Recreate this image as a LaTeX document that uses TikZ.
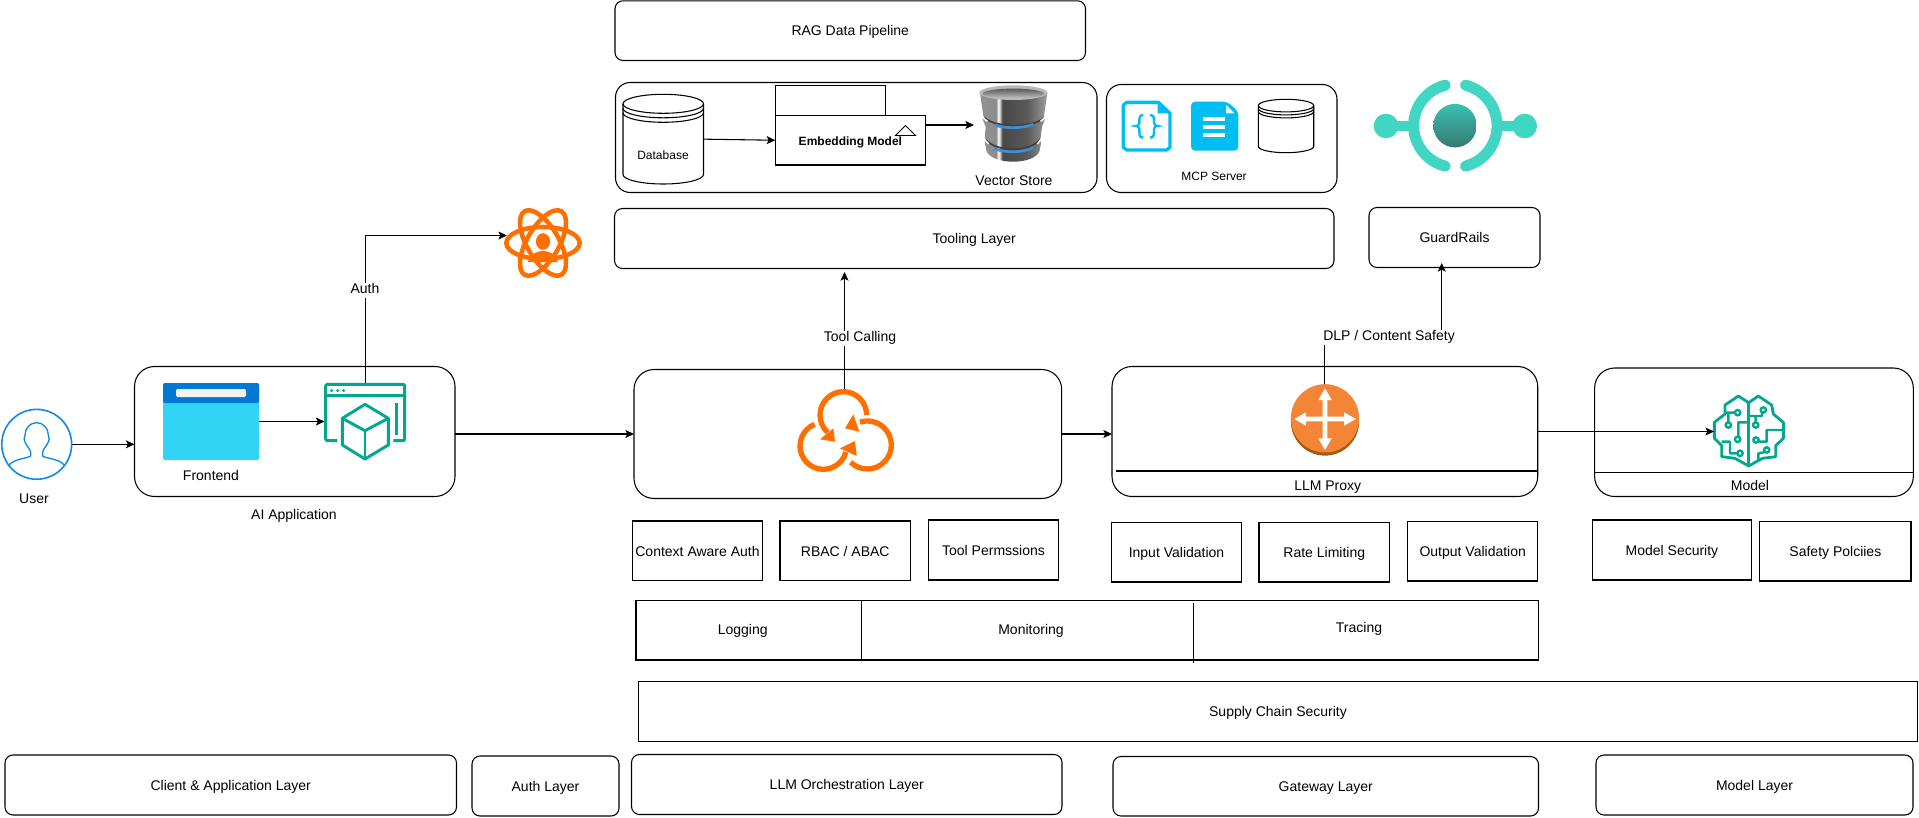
\documentclass[tikz,border=0pt]{standalone}
\usepackage{fontspec}
\setmainfont{Liberation Sans}
\usetikzlibrary{arrows.meta}
\definecolor{tealg}{HTML}{01A88D}
\definecolor{orng}{HTML}{FF6F00}
\definecolor{skyb}{HTML}{00BEF2}
\definecolor{ringc}{HTML}{40D6C3}
\definecolor{userb}{HTML}{1288E8}
\definecolor{bandb}{HTML}{3F8FD2}
\pgfdeclarehorizontalshading{vstore}{100bp}{color(0bp)=(gray!70); color(25bp)=(gray!85!white); color(37bp)=(gray!90!white); color(38.5bp)=(white); color(40bp)=(gray!50!white); color(41.5bp)=(black!72); color(60bp)=(black!65); color(75bp)=(black!38); color(100bp)=(black!38)}
\tikzset{
  base/.style={inner sep=0pt,outer sep=0pt,line width=0.8pt,text height=8.5pt,text depth=0.5pt,align=center},
  plainbox/.style={base,draw=black,fill=white},
  roundsm/.style={plainbox,rounded corners=6pt},
  roundmd/.style={plainbox,rounded corners=11pt},
  roundlg/.style={plainbox,rounded corners=15pt},
  ghost/.style={inner sep=0pt,outer sep=0pt},
  lbl/.style={inner sep=0pt,outer sep=0pt,text height=8.5pt,text depth=0.5pt},
  small/.style={font=\fontsize{9}{11}\selectfont},
  gapped/.style={inner sep=0pt,outer sep=0pt,text height=7.4pt,text depth=2.1pt,fill=white,inner xsep=1pt,inner ysep=1pt,yshift=-1pt},
  conn/.style={line width=0.8pt,draw=black,-{Stealth[length=6.5pt,width=6pt,inset=1.5pt]}},
  seg/.style={line width=0.8pt,draw=black},
  zoomed/.style={x=0.25pt,y=-0.25pt}
}
\newcommand\boxat[7]{\node[#2,minimum width={(#5-#3)*0.75pt},minimum height={(#6-#4)*0.75pt}] (#1) at ({(#3+#5)/2},{(#4+#6)/2}) {#7};}
\newcommand\cylshape[6]{%
  \pgfmathsetmacro\cxm{(#1+#2)/2}%
  \pgfmathsetmacro\crx{(#2-#1)/2*0.75}%
  \pgfmathsetmacro\cry{#5*0.75}%
  \pgfmathsetmacro\cty{#3+#5}%
  \pgfmathsetmacro\cby{#4-#5}%
  \pgfmathsetmacro\ctya{\cty+#6}%
  \pgfmathsetmacro\ctyb{\cty+2*#6}%
  \draw[seg,fill=white] (#1,\cty) -- (#1,\cby) arc[start angle=180,end angle=360,x radius=\crx pt,y radius=\cry pt] -- (#2,\cty);
  \draw[seg] (\cxm,\cty) ellipse[x radius=\crx pt,y radius=\cry pt];
  \draw[seg] (#1,\ctya) arc[start angle=180,end angle=360,x radius=\crx pt,y radius=\cry pt];
  \draw[seg] (#1,\ctyb) arc[start angle=180,end angle=360,x radius=\crx pt,y radius=\cry pt];
}
\begin{document}
\begin{tikzpicture}[x=0.75pt,y=-0.75pt,font=\fontsize{10.5}{12.5}\selectfont]
\fill[white] (0,0) rectangle (1919,817);
\useasboundingbox (0,0) rectangle (1919,817);

% top row
\boxat{rag}{roundsm}{615}{0.8}{1085.5}{60.5}{RAG Data Pipeline}
\boxat{pipeline}{roundmd}{615.5}{82.5}{1097}{192.5}{}
\boxat{mcp}{roundmd}{1106.5}{84.5}{1337}{192.5}{}
\boxat{tooling}{roundsm}{614.5}{208.5}{1334}{268.5}{Tooling Layer}
\boxat{guard}{roundsm}{1369}{207.5}{1540}{267.5}{GuardRails}

% database
\cylshape{623}{703.5}{94.3}{184}{9.5}{4.5}
\boxat{db}{ghost}{623}{94.3}{703.5}{184}{}
\node[lbl,small] (dblabel) at (663,154.5) {Database};
% embedding model
\boxat{embedtab}{plainbox}{775.3}{85.5}{885.5}{115.5}{}
\boxat{embed}{plainbox,small,font=\fontsize{9}{11}\selectfont\bfseries}{775.3}{115.5}{925.5}{165}{Embedding Model}
\draw[seg,line width=0.7pt] (895.5,135.5) -- (905.5,125.5) -- (915.5,135.5) -- cycle;
% vector store
\boxat{vector}{ghost}{974}{85}{1048}{165}{}
\begin{scope}[shift={(970,80)},zoomed]
  \shade[shading=vstore] (30,38) -- (40,108) -- (38,118) -- (47,140) -- (44,175) -- (45,190) -- (50,215) .. controls (70,255) and (190,255) .. (208,215) -- (213,190) -- (212,172) -- (216,140) -- (225,118) -- (222,108) -- (232,38) -- cycle;
  \fill[gray!55!white] (130,38) ellipse[x radius=25.5pt,y radius=5.5pt];
  \shade[top color=black!65,bottom color=gray!45!white] (130,41) ellipse[x radius=23pt,y radius=3.8pt];
  \draw[black!75,line width=1.3pt] (42,112) .. controls (75,145) and (190,145) .. (224,112);
  \draw[black!75,line width=1.3pt] (46,178) .. controls (78,218) and (183,218) .. (213,175);
  \draw[white,line width=1.2pt] (36,108) .. controls (40,114) and (46,120) .. (52,124);
  \draw[white,line width=1.2pt] (228,108) .. controls (224,114) and (218,120) .. (212,124);
  \draw[white,line width=1.2pt] (42,175) .. controls (46,182) and (50,186) .. (56,192);
  \draw[white,line width=1.2pt] (216,172) .. controls (212,180) and (208,186) .. (202,192);
  \draw[bandb,line width=2pt] (75,135) .. controls (100,146) and (160,146) .. (190,133);
  \draw[bandb,line width=2pt] (72,205) .. controls (100,219) and (160,219) .. (190,203);
\end{scope}
\node[lbl] (vectorlabel) at (1014,180) {Vector Store};

% MCP
\begin{scope}[shift={(1115,95)},zoomed]
  \draw[skyb,line width=2.5pt,line join=round] (25,30) -- (25,157) -- (35,165) -- (155,165) -- (165,157) -- (165,55) -- (130,22) -- (35,22) -- cycle;
  \fill[skyb] (128,20) -- (167,55) -- (128,55) -- cycle;
  \draw[skyb,line width=1.8pt] (85,60) .. controls (70,60) and (74,72) .. (73,84) .. controls (72,92) and (68,93) .. (62,93) .. controls (68,93) and (72,94) .. (73,102) .. controls (74,115) and (70,128) .. (85,128);
  \draw[skyb,line width=1.8pt] (105,60) .. controls (120,60) and (116,72) .. (117,84) .. controls (118,92) and (122,93) .. (128,93) .. controls (122,93) and (118,94) .. (117,102) .. controls (116,115) and (120,128) .. (105,128);
  \fill[skyb,rounded corners=3pt] (228,20) -- (228,167) -- (370,167) -- (370,50) -- (337,20) -- cycle;
  \fill[white] (333,30) -- (333,55) -- (358,55) -- cycle;
  \fill[white] (265,67) rectangle (330,77);
  \fill[white] (265,90) rectangle (330,102);
  \fill[white] (265,115) rectangle (330,127);
\end{scope}
\cylshape{1258.3}{1313.7}{99.3}{152.7}{6.3}{3}
\node[lbl,small] (mcplabel) at (1214,175) {MCP Server};

% guardrails logo
\begin{scope}[shift={(1090,60)},zoomed]
  \fill[ringc] (888,182) rectangle (965,213);
  \fill[ringc] (1230,182) rectangle (1304,213);
  \fill[ringc] (888,198) circle[radius=9.25pt];
  \fill[ringc] (1304,198) circle[radius=9.25pt];
  \draw[ringc,line width=8.25pt,line cap=round] (1096,197) ++(76:31.3pt) arc[start angle=76,end angle=-76,radius=31.3pt];
  \draw[ringc,line width=8.25pt,line cap=round] (1096,197) ++(104:31.3pt) arc[start angle=104,end angle=256,radius=31.3pt];
  \shade[top color=ringc!90!black,bottom color=ringc!50!black!90] (1095,197) circle[radius=16.3pt];
\end{scope}

% atom icon
\boxat{atom}{ghost}{505}{208}{581}{278}{}
\begin{scope}
  \foreach \ang in {0,60,-60}
    \draw[orng,line width=3.4pt,rotate around={\ang:(543,243)}] (543,243) ellipse[x radius=27.5pt,y radius=12pt];
  \fill[orng] (543,241.5) ellipse[x radius=5.3pt,y radius=6.2pt];
  \fill[orng] (528,262) .. controls (530,254) and (537,251) .. (543,251) .. controls (549,251) and (556,254) .. (558,262) -- cycle;
\end{scope}

% client
\boxat{ai}{roundlg}{134.5}{366.5}{455}{496.5}{}
\boxat{user}{ghost}{1.2}{408.8}{72}{479.8}{}
\draw[userb,line width=1.2pt] (36.7,444.3) circle[radius=26.2pt];
\begin{scope}[shift={(0,350)},zoomed]
  \draw[userb,line width=1pt,line join=round] (27,345) .. controls (45,325) and (85,325) .. (92,318) .. controls (95,300) and (85,295) .. (78,282) .. controls (72,272) and (70,262) .. (75,255) .. controls (75,235) and (90,218) .. (110,218) .. controls (130,218) and (145,235) .. (145,255) .. controls (150,262) and (148,272) .. (142,282) .. controls (135,295) and (125,300) .. (128,318) .. controls (135,325) and (175,325) .. (193,345);
\end{scope}
\node[lbl] (userlabel) at (34,498) {User};
\boxat{frontend}{ghost}{163}{383}{259}{460}{}
\fill[rounded corners=1.5pt,fill={rgb,255:red,50;green,212;blue,245}] (163,383) rectangle (259,460);
\fill[rounded corners=1.5pt,fill={rgb,255:red,0;green,120;blue,212}] (163,383) -- (163,403) -- (259,403) -- (259,383) -- cycle;
\fill[black!5,rounded corners=1pt] (176,389) rectangle (246,397);
\node[lbl] (frontendlabel) at (211,475) {Frontend};
\boxat{appicon}{ghost}{324.5}{383}{405.7}{460}{}
\begin{scope}[shift={(0,350)},zoomed,line width=2.2pt,draw=tealg]
  \draw[tealg,line join=round,rounded corners=1pt] (1012,272) -- (977,272) -- (977,103) -- (1214,103) -- (1214,272) -- (1180,272);
  \draw[tealg] (977,136) -- (1214,136);
  \fill[tealg] (995,122) circle[radius=1.2pt] (1013,122) circle[radius=1.2pt] (1031,122) circle[radius=1.2pt];
  \draw[tealg] (1190,160) -- (1190,255);
  \draw[tealg,line join=round] (1095,163) -- (1165,205) -- (1165,285) -- (1095,327) -- (1027,285) -- (1027,205) -- cycle;
  \draw[tealg,line join=round] (1027,205) -- (1095,242) -- (1165,205);
  \draw[tealg] (1095,242) -- (1095,327);
\end{scope}
\node[lbl] (ailabel) at (294,514) {AI Application};

% orchestration
\boxat{orch}{roundlg}{634}{369.5}{1061.7}{498.5}{}
\boxat{orchicon}{ghost}{795}{389}{894}{473}{}
\begin{scope}[shift={(790,380)},zoomed]
  \draw[orng,line width=4pt] (160,105) ++(0:17.5pt) arc[start angle=0,end angle=228,radius=17.5pt];
  \fill[orng] (135,185) -- (90,178) -- (130,145) -- cycle;
  \draw[orng,line width=4pt] (100,198) ++(112:17.5pt) arc[start angle=112,end angle=345,radius=17.5pt];
  \fill[orng] (195,183) -- (150,205) -- (200,228) -- cycle;
  \draw[orng,line width=4pt] (232,195) ++(226:18pt) arc[start angle=226,end angle=468,radius=18pt];
  \fill[orng] (165,145) -- (190,103) -- (208,155) -- cycle;
\end{scope}
\boxat{ctxauth}{plainbox}{632.5}{521}{762.5}{580.7}{Context Aware Auth}
\boxat{rbac}{plainbox}{780}{521}{910.5}{580.7}{RBAC / ABAC}
\boxat{toolperm}{plainbox}{928.5}{520}{1058.5}{580}{Tool Permssions}

% llm proxy
\boxat{llm}{roundlg}{1112}{366.5}{1537.7}{496.5}{}
\draw[seg] (1116,471) -- (1537.7,471);
\node[lbl] (llmlabel) at (1327.7,485) {LLM Proxy};
\boxat{router}{ghost}{1290.5}{384.3}{1359}{456}{}
\fill[black!40!orange!70!brown] (1325,421.5) circle[radius=25.6pt];
\fill[fill={rgb,255:red,245;green,133;blue,54}] (1325,418.3) circle[radius=25.6pt];
\begin{scope}[shift={(1285,375)},zoomed]
  \fill[white] (120,40) -- (140,75) -- (127,75) -- (127,125) -- (177,125) -- (177,112) -- (213,132) -- (177,152) -- (177,139) -- (127,139) -- (127,190) -- (140,190) -- (120,225) -- (100,190) -- (113,190) -- (113,139) -- (63,139) -- (63,152) -- (28,132) -- (63,112) -- (63,125) -- (113,125) -- (113,75) -- (100,75) -- cycle;
\end{scope}
\boxat{inputval}{plainbox}{1111.5}{522.3}{1241.5}{582}{Input Validation}
\boxat{rate}{plainbox}{1259}{522.3}{1389.5}{582}{Rate Limiting}
\boxat{outputval}{plainbox}{1407.7}{521.5}{1537.7}{581}{Output Validation}

% model
\boxat{model}{roundlg}{1594.6}{368}{1913.3}{496.5}{}
\draw[seg] (1594.6,472.5) -- (1913.3,472.5);
\node[lbl] (modellabel) at (1750,485) {Model};
\boxat{brain}{ghost}{1714}{396}{1784}{466.5}{}
\begin{scope}[shift={(1705,390)},zoomed]
  \draw[tealg,line width=2.1pt,line join=round] (131,38) -- (100,18) -- (60,45) -- (60,72) -- (28,97) -- (28,145) -- (50,167) -- (50,200) -- (90,205) -- (131,228) -- (172,205) -- (212,200) -- (212,167) -- (235,145) -- (235,97) -- (205,72) -- (200,45) -- (160,18) -- cycle;
  \draw[tealg,line width=2.1pt] (131,38) -- (131,228);
  \draw[tealg,line width=1.8pt,line join=round]
    (90,68) -- (60,68)  (70,97) -- (70,68)
    (131,97) -- (100,97) -- (100,140)
    (97,190) -- (75,190) -- (75,155) -- (50,155)
    (172,68) -- (170,78) -- (131,78)  (152,97) -- (152,78)
    (235,120) -- (185,120) -- (185,155) -- (162,155)
    (177,187) -- (160,190) -- (160,215);
  \draw[tealg,line width=1.8pt,fill=white] (98,68) circle[radius=2pt] (70,105) circle[radius=2pt] (98,148) circle[radius=2pt] (105,190) circle[radius=2pt] (175,60) circle[radius=2pt] (152,105) circle[radius=2pt] (153,150) circle[radius=2pt] (185,180) circle[radius=2pt];
\end{scope}
\boxat{modelsec}{plainbox}{1592.6}{520}{1751.3}{580}{Model Security}
\boxat{safety}{plainbox}{1759.7}{521.5}{1911}{581}{Safety Polciies}

% observability
\boxat{observ}{plainbox}{636}{600.7}{1538.5}{660}{}
\draw[seg] (861.8,600.7) -- (861.8,660);
\draw[seg,line width=0.7pt] (1193.4,603) -- (1193.4,662.7);
\node[lbl] (logging) at (742.7,629) {Logging};
\node[lbl] (monitoring) at (1031,629) {Monitoring};
\node[lbl] (tracing) at (1359,627.5) {Tracing};
\boxat{supply}{plainbox}{638.5}{681.5}{1917.5}{741.5}{Supply Chain Security}

% layers
\boxat{clientl}{roundsm}{5}{755}{456.5}{815}{Client \& Application Layer}
\boxat{authl}{roundsm}{472}{756}{619}{816}{Auth Layer}
\boxat{orchl}{roundsm}{631.5}{754.5}{1062}{814.5}{LLM Orchestration Layer}
\boxat{gatewayl}{roundsm}{1113}{756.5}{1538.5}{816}{Gateway Layer}
\boxat{modell}{roundsm}{1596}{755}{1913}{815}{Model Layer}

% connectors
\coordinate (atomentry) at (507,235.5);
\coordinate (toolentry) at (844.5,272);
\coordinate (guardentry) at (1441.7,263);
\coordinate (dlpelbow) at (1441.7,336);
\draw[conn] (user.east) -- (user.east -| ai.west);
\draw[conn] (frontend.east) -- (frontend.east -| appicon.west);
\draw[conn] (appicon.north) |- (atomentry);
\draw[conn] (ai.east |- orch.west) -- (orch.west);
\draw[conn] (orch.east) -- (orch.east -| llm.west);
\draw[conn] (llm.east) -- (llm.east -| brain.west);
\draw[conn] (orchicon.north) -- (toolentry);
\draw[conn] (router.north) |- (dlpelbow) -- (guardentry);
\draw[conn] (db.east) -- (embed.west);
\draw[conn] (embed.east |- vector.west) -- (vector.west);
\node[gapped] (authtag) at (365,289) {Auth};
\node[gapped] (tooltag) at (860,337) {Tool Calling};
\node[gapped] (dlptag) at (1389,336) {DLP / Content Safety};
\end{tikzpicture}
\end{document}
